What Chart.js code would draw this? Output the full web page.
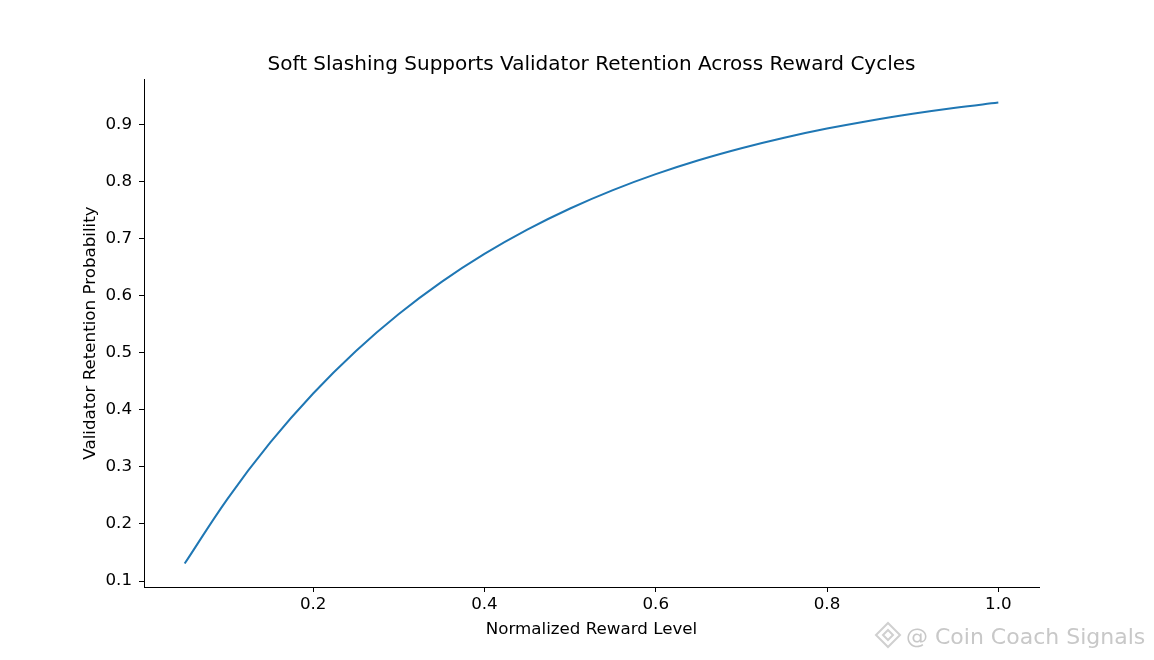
<!DOCTYPE html>
<html lang="en">
<head>
    <meta charset="UTF-8">
    <script src="https://cdn.jsdelivr.net/npm/chart.js"></script>
    <title>Validator Retention</title>
    <style>
        body { margin: 0; background: #fff; }
    </style>
</head>
<body>
<canvas id="retentionChart" width="1154" height="660"></canvas>
<script>
    // values
    const rewardLevels = [0.05, 0.10, 0.15, 0.20, 0.25, 0.30, 0.35, 0.40, 0.45, 0.50,
                          0.55, 0.60, 0.65, 0.70, 0.75, 0.80, 0.85, 0.90, 0.95, 1.00];
    const retentionProb = [0.1306, 0.2442, 0.3430, 0.4288, 0.5034, 0.5683, 0.6247, 0.6737, 0.7163, 0.7534,
                           0.7856, 0.8136, 0.8380, 0.8591, 0.8775, 0.8935, 0.9074, 0.9195, 0.9301, 0.9392];

    const titleText = 'Soft Slashing Supports Validator Retention Across Reward Cycles';
    const xLabel = 'Normalized Reward Level';
    const yLabel = 'Validator Retention Probability';
    const watermark = '@ Coin Coach Signals';

    const font = 'DejaVu Sans';

    // title centred over the plot area, like matplotlib does it
    const titlePlugin = {
        id: 'plotTitle',
        afterDraw(chart) {
            const c = chart.ctx;
            const a = chart.chartArea;
            c.save();
            c.font = '20px "' + font + '"';
            c.fillStyle = '#000';
            c.textAlign = 'center';
            c.textBaseline = 'alphabetic';
            c.fillText(titleText, (a.left + a.right) / 2, 70);
            c.restore();
        }
    };

    // watermark in the lower right corner
    const watermarkPlugin = {
        id: 'watermark',
        afterDraw(chart) {
            const c = chart.ctx;
            c.save();
            // little diamond logo
            c.strokeStyle = '#d0d0d0';
            c.lineWidth = 2;
            const cx = 888, cy = 635;
            c.beginPath();
            c.moveTo(cx, cy - 12); c.lineTo(cx + 12, cy); c.lineTo(cx, cy + 12); c.lineTo(cx - 12, cy); c.closePath();
            c.stroke();
            c.beginPath();
            c.moveTo(cx, cy - 5); c.lineTo(cx + 5, cy); c.lineTo(cx, cy + 5); c.lineTo(cx - 5, cy); c.closePath();
            c.stroke();
            c.font = '22px "' + font + '"';
            c.fillStyle = '#c8c8c8';
            c.textBaseline = 'alphabetic';
            c.textAlign = 'left';
            c.fillText(watermark, 906, 644);
            c.restore();
        }
    };

    const ctx = document.getElementById('retentionChart').getContext('2d');

    const chart = new Chart(ctx, {
        type: 'line',
        data: {
            datasets: [{
                data: rewardLevels.map((x, i) => ({x: x, y: retentionProb[i]})),
                borderColor: '#1f77b4',
                borderWidth: 2,
                pointRadius: 0,
                fill: false,
                tension: 0.4
            }]
        },
        options: {
            responsive: false,
            animation: false,
            layout: { padding: { left: 77, right: 115, top: 79, bottom: 0 } },
            plugins: {
                legend: { display: false },
                tooltip: { enabled: false },
                title: { display: false }
            },
            scales: {
                x: {
                    type: 'linear',
                    min: 0.0025,
                    max: 1.0475,
                    afterFit: s => { s.height = 73; },
                    border: { display: true, color: '#000', width: 1 },
                    grid: { drawOnChartArea: false, tickLength: 5, color: '#000' },
                    ticks: {
                        stepSize: 0.2,
                        includeBounds: false,
                        padding: 3,
                        color: '#000',
                        font: { family: font, size: 16.7 },
                        callback: v => v.toFixed(1)
                    },
                    title: {
                        display: true,
                        text: xLabel,
                        color: '#000',
                        font: { family: font, size: 16.7 },
                        padding: { top: 0, bottom: 20 }
                    }
                },
                y: {
                    type: 'linear',
                    min: 0.0895,
                    max: 0.9805,
                    afterFit: s => { s.width = 67; },
                    border: { display: true, color: '#000', width: 1 },
                    grid: { drawOnChartArea: false, tickLength: 5, color: '#000' },
                    ticks: {
                        stepSize: 0.1,
                        includeBounds: false,
                        padding: 7,
                        color: '#000',
                        font: { family: font, size: 16.7 },
                        callback: v => v.toFixed(1)
                    },
                    title: {
                        display: true,
                        text: yLabel,
                        color: '#000',
                        font: { family: font, size: 16.7 },
                        padding: { top: 4, bottom: 0 }
                    }
                }
            }
        },
        plugins: [titlePlugin, watermarkPlugin]
    });
</script>
</body>
</html>
